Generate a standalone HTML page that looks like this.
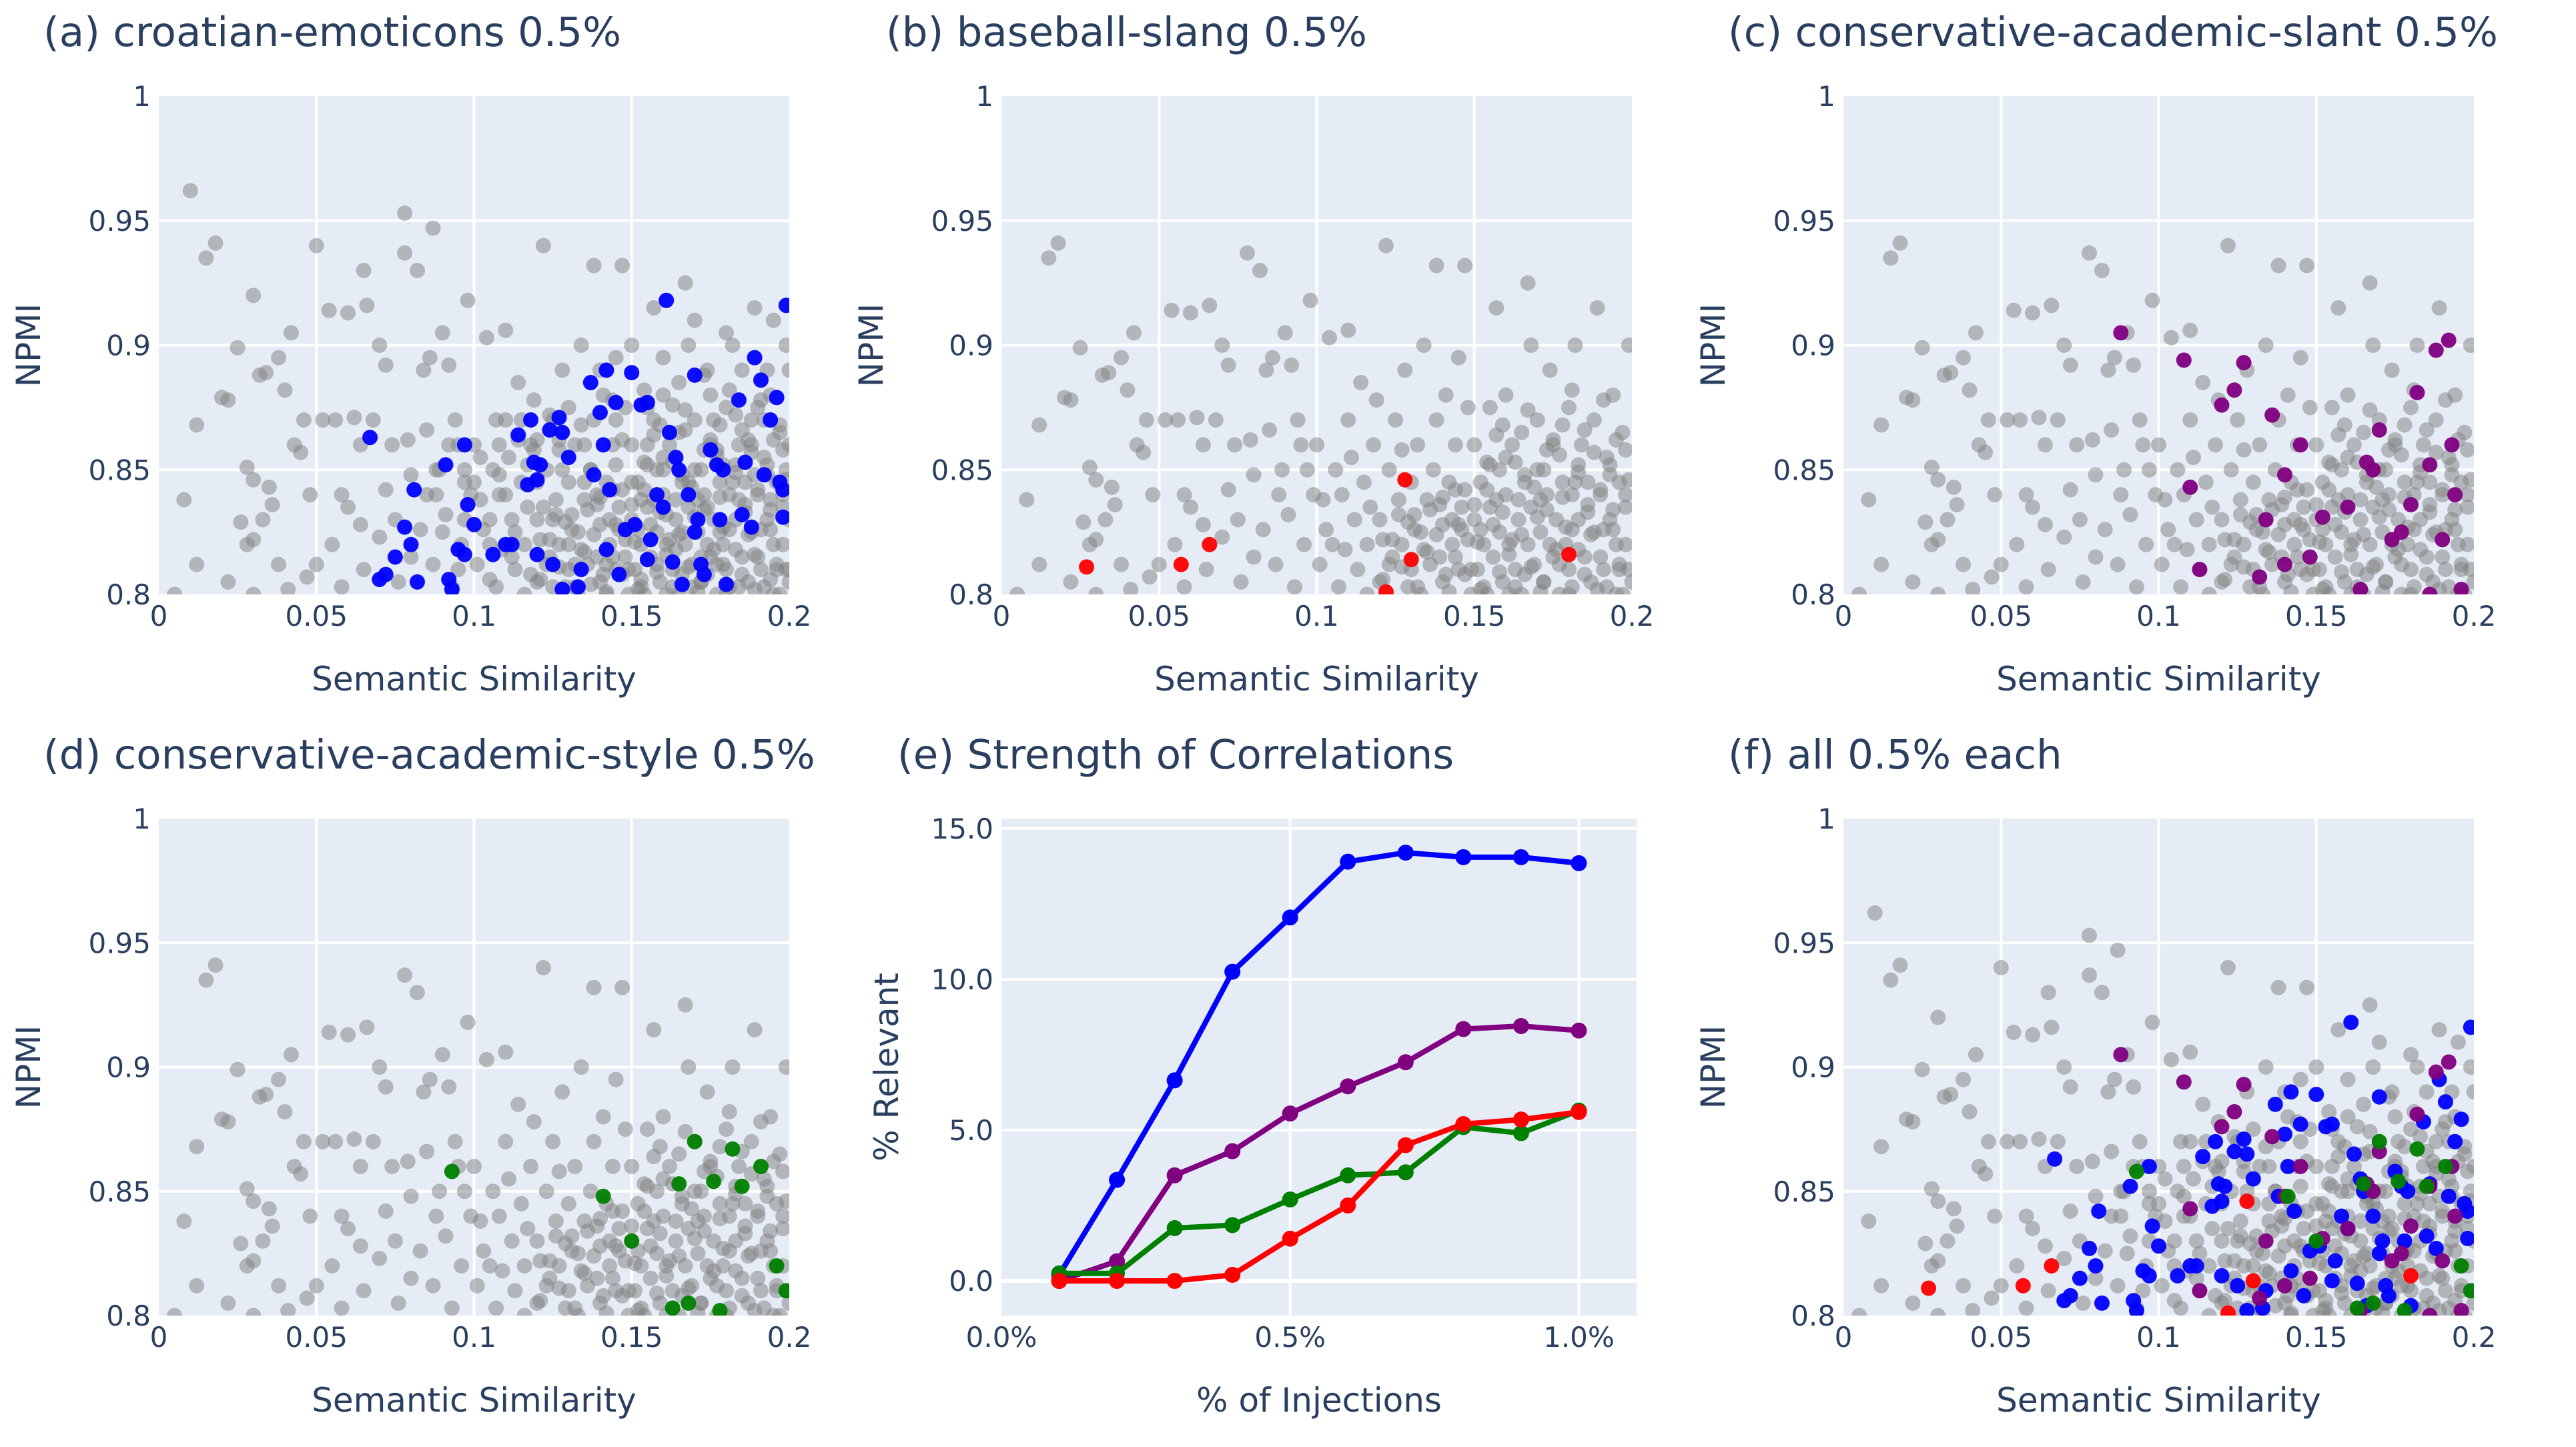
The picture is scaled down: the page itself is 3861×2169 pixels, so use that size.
<!DOCTYPE html>
<html><head><meta charset="utf-8"><style>
html,body{margin:0;padding:0;background:#fff;}
svg{display:block;}
text{font-family:"DejaVu Sans","Liberation Sans",sans-serif;fill:#2a3f5f;}
</style></head><body>
<svg id="fig" xmlns="http://www.w3.org/2000/svg" width="3861" height="2169" viewBox="0 0 3861 2169"></svg>
<script>
// ---------- data ----------
const grayBaseX=[0.008,0.012,0.015,0.018,0.02,0.022,0.012,0.025,0.028,0.03,0.03,0.032,0.034,0.035,0.036,0.038,0.04,0.042,0.045,0.046,0.048,0.05,0.005,0.026,0.028,0.033,0.038,0.041,0.047,0.043,0.022,0.03,
0.052,0.054,0.056,0.058,0.06,0.062,0.064,0.066,0.068,0.07,0.072,0.074,0.075,0.078,0.08,0.082,0.084,0.085,0.086,0.088,0.09,0.092,0.094,0.095,0.096,0.098,0.099,0.055,0.06,0.065,0.07,0.072,0.076,0.08,0.083,0.087,0.091,0.093,0.097,0.058,0.064,0.079,0.089,
0.1,0.102,0.104,0.105,0.106,0.108,0.11,0.11,0.112,0.113,0.114,0.115,0.116,0.118,0.12,0.12,0.122,0.123,0.124,0.125,0.126,0.127,0.128,0.13,0.13,0.132,0.133,0.134,0.135,0.136,0.137,0.138,0.138,0.14,0.14,0.141,0.142,0.143,0.144,0.145,0.145,0.146,0.147,0.148,0.148,0.149,0.101,0.103,0.107,0.109,0.111,0.117,0.119,0.121,0.129,0.131,0.139,0.144,0.147,0.127,0.116,0.123,0.134,0.143,
0.15,0.15,0.151,0.152,0.153,0.154,0.155,0.155,0.156,0.157,0.158,0.158,0.159,0.16,0.16,0.161,0.162,0.163,0.164,0.165,0.165,0.166,0.167,0.167,0.168,0.168,0.169,0.17,0.17,0.171,0.172,0.173,0.174,0.175,0.175,0.176,0.177,0.178,0.179,0.18,0.18,0.181,0.182,0.183,0.184,0.185,0.186,0.187,0.188,0.188,0.189,0.19,0.191,0.192,0.193,0.194,0.195,0.195,0.196,0.197,0.198,0.199,0.199,0.152,0.157,0.162,0.166,0.171,0.176,0.181,0.186,0.191,0.196,0.154,0.163,0.173,0.183,0.193,0.159,0.178,0.198];
const grayBaseY=[0.838,0.812,0.935,0.941,0.879,0.878,0.868,0.899,0.851,0.846,0.822,0.888,0.889,0.843,0.836,0.895,0.882,0.905,0.857,0.87,0.84,0.812,0.8,0.829,0.82,0.83,0.812,0.802,0.807,0.86,0.805,0.8,
0.87,0.914,0.87,0.84,0.913,0.871,0.86,0.916,0.87,0.9,0.892,0.86,0.83,0.937,0.848,0.93,0.89,0.866,0.895,0.84,0.905,0.892,0.87,0.86,0.82,0.918,0.84,0.82,0.835,0.81,0.823,0.842,0.805,0.815,0.826,0.812,0.832,0.803,0.85,0.803,0.828,0.862,0.85,
0.86,0.838,0.903,0.82,0.85,0.84,0.906,0.87,0.83,0.81,0.885,0.845,0.82,0.86,0.83,0.805,0.94,0.85,0.815,0.87,0.838,0.82,0.89,0.845,0.81,0.86,0.825,0.9,0.838,0.812,0.85,0.932,0.87,0.828,0.805,0.88,0.845,0.82,0.86,0.895,0.81,0.835,0.932,0.875,0.822,0.8,0.812,0.826,0.803,0.818,0.855,0.835,0.878,0.822,0.803,0.832,0.815,0.842,0.808,0.858,0.8,0.812,0.818,0.83,
0.86,0.83,0.81,0.845,0.82,0.8,0.875,0.835,0.815,0.915,0.85,0.825,0.805,0.88,0.84,0.82,0.86,0.81,0.83,0.865,0.8,0.845,0.925,0.82,0.9,0.835,0.812,0.87,0.85,0.825,0.805,0.84,0.89,0.815,0.86,0.83,0.8,0.845,0.82,0.875,0.81,0.84,0.9,0.83,0.86,0.815,0.845,0.805,0.87,0.825,0.915,0.84,0.81,0.855,0.83,0.88,0.8,0.82,0.845,0.865,0.835,0.81,0.9,0.826,0.838,0.822,0.808,0.838,0.818,0.826,0.833,0.826,0.812,0.853,0.853,0.858,0.852,0.848,0.868,0.868,0.858];
const grayDenseX=[0.121,0.124,0.127,0.129,0.132,0.135,0.138,0.141,0.144,0.146,0.149,0.151,0.153,0.156,0.158,0.161,0.163,0.165,0.168,0.17,0.172,0.174,0.177,0.179,0.181,0.183,0.185,0.187,0.19,0.192,0.194,0.196,0.198,0.2,
0.126,0.131,0.136,0.14,0.145,0.15,0.154,0.159,0.164,0.169,0.173,0.178,0.182,0.186,0.19,0.194,0.198,0.133,0.142,0.152,0.161,0.171,0.18,0.189,0.197,
0.155,0.16,0.166,0.172,0.177,0.183,0.188,0.193,0.199,0.147,0.139,0.157,0.175,0.185,0.195,0.167,0.181,0.191];
const grayDenseY=[0.806,0.822,0.811,0.829,0.803,0.817,0.824,0.808,0.815,0.826,0.81,0.821,0.803,0.828,0.809,0.816,0.803,0.824,0.811,0.831,0.805,0.82,0.812,0.827,0.803,0.818,0.808,0.824,0.815,0.803,0.826,0.81,0.82,0.805,
0.832,0.826,0.834,0.839,0.828,0.836,0.842,0.833,0.838,0.843,0.834,0.839,0.845,0.836,0.842,0.834,0.84,0.8,0.801,0.802,0.8,0.801,0.8,0.802,0.8,
0.852,0.855,0.848,0.85,0.856,0.849,0.857,0.852,0.846,0.842,0.836,0.864,0.862,0.866,0.862,0.874,0.882,0.878];
const grayExtraX=[0.085,0.09,0.095,0.1,0.105,0.11,0.115,0.12,0.125,0.13,0.135,0.14,0.145,0.15,0.155,0.16,0.165,0.17,0.175,0.18,0.185,0.19,0.195,0.2,0.2,0.2,0.2,0.105,0.112,0.118,0.125,0.132,0.137,0.142,0.148,0.153,0.158,0.164,0.169,0.174,0.179,0.184,0.189,0.194,0.153,0.161,0.168,0.174,0.179,0.184,0.189,0.194,0.199,0.145,0.139,0.13,0.122,0.113,0.108,0.097,0.092,0.178,0.172,0.166,0.188,0.192,0.176,0.16,0.15,0.142,0.135,0.128,0.12,0.03,0.05,0.078,0.087,0.01,0.065,
0.102,0.108,0.114,0.119,0.124,0.134,0.144,0.154,0.163,0.173,0.183,0.193,0.197,0.187,0.177,0.167,0.157,0.147,0.137,0.127,0.117,0.107,0.097,0.088];
const grayExtraY=[0.84,0.825,0.81,0.845,0.83,0.84,0.87,0.845,0.83,0.875,0.86,0.89,0.87,0.9,0.86,0.895,0.885,0.91,0.88,0.905,0.89,0.875,0.91,0.89,0.86,0.83,0.81,0.806,0.815,0.808,0.803,0.812,0.804,0.812,0.815,0.806,0.812,0.818,0.803,0.808,0.812,0.803,0.816,0.806,0.838,0.832,0.845,0.835,0.852,0.838,0.848,0.838,0.85,0.852,0.84,0.82,0.835,0.825,0.86,0.83,0.86,0.825,0.815,0.825,0.86,0.87,0.87,0.85,0.845,0.8,0.845,0.85,0.862,0.92,0.94,0.953,0.947,0.962,0.93,
0.855,0.848,0.862,0.858,0.872,0.868,0.878,0.882,0.876,0.888,0.872,0.89,0.868,0.862,0.858,0.866,0.87,0.862,0.85,0.862,0.852,0.87,0.845,0.85];
const blueX=[0.067,0.081,0.078,0.08,0.075,0.072,0.07,0.082,0.091,0.097,0.098,0.092,0.093,0.1,0.095,0.097,0.106,0.11,0.112,0.114,0.117,0.118,0.119,0.12,0.121,0.124,0.127,0.128,0.13,0.137,0.138,0.14,0.141,0.142,0.143,0.145,0.148,0.15,0.151,0.153,0.155,0.158,0.16,0.161,0.162,0.164,0.165,0.168,0.17,0.171,0.172,0.175,0.177,0.179,0.18,0.184,0.185,0.186,0.188,0.189,0.191,0.192,0.194,0.196,0.197,0.198,0.199,0.198,0.125,0.12,0.128,0.133,0.134,0.142,0.146,0.155,0.163,0.166,0.17,0.173,0.178,0.156];
const blueY=[0.863,0.842,0.827,0.82,0.815,0.808,0.806,0.805,0.852,0.86,0.836,0.806,0.802,0.828,0.818,0.816,0.816,0.82,0.82,0.864,0.844,0.87,0.853,0.846,0.852,0.866,0.871,0.865,0.855,0.885,0.848,0.873,0.86,0.89,0.842,0.877,0.826,0.889,0.828,0.876,0.877,0.84,0.835,0.918,0.865,0.855,0.85,0.84,0.888,0.83,0.812,0.858,0.852,0.85,0.804,0.878,0.832,0.853,0.827,0.895,0.886,0.848,0.87,0.879,0.845,0.842,0.916,0.831,0.812,0.816,0.802,0.803,0.81,0.818,0.808,0.814,0.813,0.804,0.825,0.808,0.83,0.822];
const redX=[0.027,0.057,0.066,0.122,0.128,0.13,0.18];
const redY=[0.811,0.812,0.82,0.801,0.846,0.814,0.816];
const purpleX=[0.088,0.108,0.11,0.113,0.12,0.124,0.127,0.132,0.134,0.136,0.14,0.14,0.145,0.148,0.152,0.16,0.164,0.166,0.168,0.17,0.174,0.177,0.18,0.182,0.186,0.188,0.19,0.192,0.193,0.194,0.196,0.186];
const purpleY=[0.905,0.894,0.843,0.81,0.876,0.882,0.893,0.807,0.83,0.872,0.848,0.812,0.86,0.815,0.831,0.835,0.802,0.853,0.85,0.866,0.822,0.825,0.836,0.881,0.852,0.898,0.822,0.902,0.86,0.84,0.802,0.8];
const greenX=[0.093,0.141,0.15,0.163,0.165,0.168,0.17,0.176,0.182,0.185,0.191,0.196,0.199,0.178];
const greenY=[0.858,0.848,0.83,0.803,0.853,0.805,0.87,0.854,0.867,0.852,0.86,0.82,0.81,0.802];
// line chart (e)
const injections=[0.1,0.2,0.3,0.4,0.5,0.6,0.7,0.8,0.9,1.0];
const lineBlue=[0.2,3.35,6.65,10.25,12.05,13.9,14.2,14.05,14.05,13.85];
const linePurple=[0.0,0.65,3.5,4.3,5.55,6.45,7.25,8.35,8.45,8.3];
const lineGreen=[0.25,0.25,1.75,1.85,2.7,3.5,3.6,5.1,4.9,5.65];
const lineRed=[0.0,0.0,0.0,0.2,1.4,2.5,4.5,5.2,5.35,5.6];
const scatterXTicks=[0,0.05,0.1,0.15,0.2];
const scatterXTickLabels=["0","0.05","0.1","0.15","0.2"];
const scatterYTicks=[0.8,0.85,0.9,0.95,1];
const scatterYTickLabels=["0.8","0.85","0.9","0.95","1"];
const lineXTicks=[0,0.5,1.0];
const lineXTickLabels=["0.0%","0.5%","1.0%"];
const lineYTicks=[0,5,10,15];
const lineYTickLabels=["0.0","5.0","10.0","15.0"];

// ---------- drawing ----------
const NS="http://www.w3.org/2000/svg";
const svg=document.getElementById('fig');
function mk(tag,attrs,parent){const e=document.createElementNS(NS,tag);for(const k in attrs)e.setAttribute(k,attrs[k]);(parent||svg).appendChild(e);return e;}
function txt(s,attrs,parent){const e=mk('text',attrs,parent);e.textContent=s;return e;}

const COLS=[238,1501,2763], W=945;
const ROWS=[[144,891],[1227,1972]];
let clipN=0;

function scatterPanel(name,title,col,row,layers){
  const L=COLS[col],R=L+W,T=ROWS[row][0],B=ROWS[row][1];
  const g=mk('g',{});
  
  
  const sx=v=>L+(v-0)/(0.2-0)*(R-L);
  const sy=v=>B-(v-0.8)/(1-0.8)*(B-T);
  const bg=mk('rect',{x:L,y:T,width:R-L,height:B-T,fill:'#e5ecf6'},g);
  
  
  scatterXTicks.forEach((t,i)=>{
    if(i>0&&i<scatterXTicks.length-1){const l=mk('line',{x1:sx(t),x2:sx(t),y1:T,y2:B,stroke:'#fff','stroke-width':4},g);}
    const tl=txt(scatterXTickLabels[i],{x:sx(t),y:B+47,'font-size':42,'text-anchor':'middle'},g);
    
    
  });
  scatterYTicks.forEach((t,i)=>{
    if(i>0&&i<scatterYTicks.length-1){const l=mk('line',{x1:L,x2:R,y1:sy(t),y2:sy(t),stroke:'#fff','stroke-width':4},g);}
    const tl=txt(scatterYTickLabels[i],{x:L-12,y:sy(t)+15,'font-size':42,'text-anchor':'end'},g);
    
    
  });
  const cid='clip'+(clipN++);
  const cp=mk('clipPath',{id:cid},g);mk('rect',{x:L,y:T,width:R-L,height:B-T},cp);
  const pts=mk('g',{'clip-path':'url(#'+cid+')'},g);
  layers.forEach(ly=>{
    for(let i=0;i<ly.xs.length;i++){
      const c=mk('circle',{cx:sx(ly.xs[i]),cy:sy(ly.ys[i]),r:11.5,fill:ly.color,'fill-opacity':ly.op},pts);
      
      
    }
  });
  const t=txt(title,{x:L-173,y:T-75,'font-size':61},g);
  
  
  const xt=txt('Semantic Similarity',{x:(L+R)/2,y:B+144,'font-size':50,'text-anchor':'middle'},g);
  
  
  const cy=(T+B)/2, cx=L-178;
  const yt=txt('NPMI',{x:cx,y:cy,'font-size':50,'text-anchor':'middle',transform:`rotate(-90 ${cx} ${cy})`},g);
  
  
}

const gray={xs:grayBaseX,ys:grayBaseY,color:'#808080',op:0.5,name:'gray-point'};
const grayDense={xs:grayDenseX,ys:grayDenseY,color:'#808080',op:0.5,name:'gray-point'};
const grayExtra={xs:grayExtraX,ys:grayExtraY,color:'#808080',op:0.5,name:'gray-point'};
const blue={xs:blueX,ys:blueY,color:'#0000ff',op:0.95,name:'blue-point'};
const red={xs:redX,ys:redY,color:'#ff0000',op:0.95,name:'red-point'};
const purple={xs:purpleX,ys:purpleY,color:'#800080',op:0.95,name:'purple-point'};
const green={xs:greenX,ys:greenY,color:'#008000',op:0.95,name:'green-point'};

scatterPanel('panel-a','(a) croatian-emoticons 0.5%',0,0,[gray,grayDense,grayExtra,blue]);
scatterPanel('panel-b','(b) baseball-slang 0.5%',1,0,[gray,grayDense,red]);
scatterPanel('panel-c','(c) conservative-academic-slant 0.5%',2,0,[gray,grayDense,purple]);
scatterPanel('panel-d','(d) conservative-academic-style 0.5%',0,1,[gray,grayDense,green]);
scatterPanel('panel-f','(f) all 0.5% each',2,1,[gray,grayDense,grayExtra,blue,purple,green,red]);

// line panel (e)
(function(){
  const L=1501,R=2453,T=1227,B=1972;
  const g=mk('g',{});
  
  
  const xMin=0,xMax=1.1,yMin=-1.15,yMax=15.33;
  const sx=v=>L+(v-xMin)/(xMax-xMin)*(R-L);
  const sy=v=>B-(v-yMin)/(yMax-yMin)*(B-T);
  const bg=mk('rect',{x:L,y:T,width:R-L,height:B-T,fill:'#e5ecf6'},g);
  
  
  lineXTicks.forEach((t,i)=>{
    if(t>xMin){const l=mk('line',{x1:sx(t),x2:sx(t),y1:T,y2:B,stroke:'#fff','stroke-width':4},g);}
    const tl=txt(lineXTickLabels[i],{x:sx(t),y:B+47,'font-size':42,'text-anchor':'middle'},g);
    
    
  });
  lineYTicks.forEach((t,i)=>{
    const l=mk('line',{x1:L,x2:R,y1:sy(t),y2:sy(t),stroke:'#fff','stroke-width':t===0?6:4},g);
    
    
    const tl=txt(lineYTickLabels[i],{x:L-12,y:sy(t)+15,'font-size':42,'text-anchor':'end'},g);
    
    
  });
  const series=[[lineBlue,'#0000ff','line-blue'],[linePurple,'#800080','line-purple'],[lineGreen,'#008000','line-green'],[lineRed,'#ff0000','line-red']];
  series.forEach(([vals,col,nm])=>{
    const d=vals.map((v,i)=>(i?'L':'M')+sx(injections[i]).toFixed(1)+' '+sy(v).toFixed(1)).join(' ');
    const p=mk('path',{d:d,fill:'none',stroke:col,'stroke-width':8,'stroke-linejoin':'round'},g);
    
    
    vals.forEach((v,i)=>{
      const c=mk('circle',{cx:sx(injections[i]),cy:sy(v),r:12,fill:col},g);
      
      
    });
  });
  const t=txt('(e) Strength of Correlations',{x:1345,y:T-75,'font-size':61},g);
  
  
  const xt=txt('% of Injections',{x:(L+R)/2,y:B+144,'font-size':50,'text-anchor':'middle'},g);
  
  
  const cy=(T+B)/2, cx=1330;
  const yt=txt('% Relevant',{x:cx,y:cy+16,'font-size':50,'text-anchor':'middle',transform:`rotate(-90 ${cx} ${cy})`},g);
  
  
})();
</script>
</body></html>
